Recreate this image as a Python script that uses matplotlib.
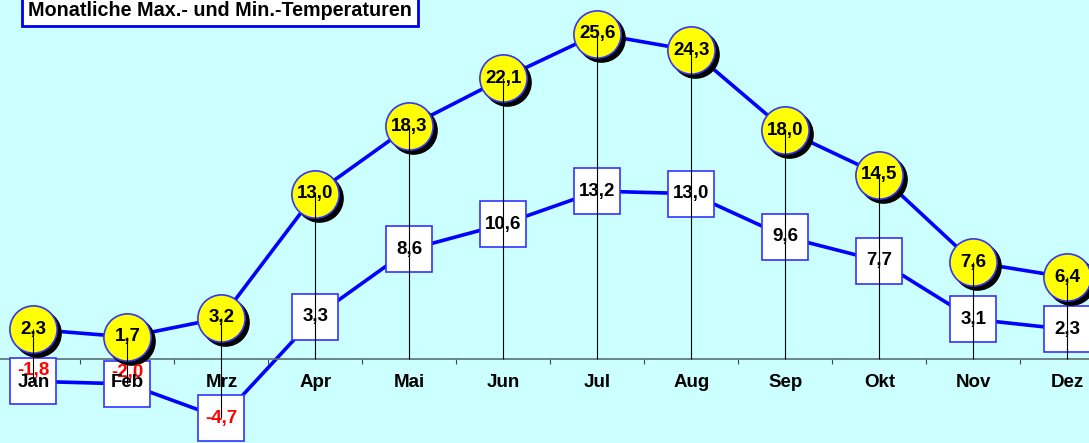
import matplotlib
matplotlib.use("Agg")
import matplotlib.pyplot as plt
from matplotlib import transforms
import numpy as np

months = ['Jan', 'Feb', 'Mrz', 'Apr', 'Mai', 'Jun', 'Jul', 'Aug', 'Sep', 'Okt', 'Nov', 'Dez']
max_temp = [2.3, 1.7, 3.2, 13.0, 18.3, 22.1, 25.6, 24.3, 18.0, 14.5, 7.6, 6.4]
min_temp = [-1.8, -2.0, -4.7, 3.3, 8.6, 10.6, 13.2, 13.0, 9.6, 7.7, 3.1, 2.3]
title = "Monatliche Max.- und Min.-Temperaturen"

plt.rcParams['font.family'] = ['Liberation Sans', 'DejaVu Sans']

BG = '#ccffff'
BLUE = '#0000ff'
EDGE = '#3333ff'


def fmt(v):
    return ("%.1f" % v).replace('.', ',')


def main():
    fig = plt.figure(figsize=(10.89, 4.43), dpi=100, facecolor=BG)
    ax = fig.add_axes([0, 0, 1, 1], facecolor=BG)
    x = np.arange(len(months))

    # lines
    ax.plot(x, min_temp, color=BLUE, lw=2.6, zorder=2)
    ax.plot(x, max_temp, color=BLUE, lw=2.6, zorder=2)

    # min squares
    ax.plot(x, min_temp, ls='none', marker='s', ms=33, mfc='white',
            mec=EDGE, mew=1.2, zorder=3)

    # shadow + yellow circles
    shadow = transforms.offset_copy(ax.transData, fig, x=3.5, y=-4, units='dots')
    ax.plot(x, max_temp, ls='none', marker='o', ms=34, mfc='black',
            mec='black', transform=shadow, zorder=3)
    ax.plot(x, max_temp, ls='none', marker='o', ms=34, mfc='#ffff00',
            mec=EDGE, mew=1.2, zorder=4)

    # drop lines
    bottoms = np.minimum(min_temp, 0)
    ax.vlines(x, bottoms, max_temp, color='black', lw=0.8, zorder=5)

    # value labels
    for i in x:
        ax.text(i, max_temp[i], fmt(max_temp[i]), ha='center', va='center',
                fontsize=13.5, fontweight='bold', color='black', zorder=6)
        v = min_temp[i]
        dy = 0
        col = 'black'
        if v < 0:
            col = 'red'
            if v > -3:
                dy = 8
        ax.annotate(fmt(v), (i, v), xytext=(0, dy), textcoords='offset points',
                    ha='center', va='center', fontsize=13.5, fontweight='bold',
                    color=col, zorder=6)

    # month labels below the zero line
    for i in x:
        ax.annotate(months[i], (i, 0), xytext=(0, -17.5), textcoords='offset points',
                    ha='center', va='center', fontsize=13.5, fontweight='bold',
                    color='black', zorder=6)

    # axis at zero
    for s in ['top', 'right', 'left']:
        ax.spines[s].set_visible(False)
    ax.spines['bottom'].set_position(('data', 0))
    ax.spines['bottom'].set_color('#5a6e6e')
    ax.spines['bottom'].set_linewidth(1.2)
    ax.set_xticks(np.arange(len(months) + 1) - 0.5)
    ax.set_xticklabels([])
    ax.tick_params(axis='x', direction='out', length=3.5, width=0.8, colors='#3a4a4a')
    ax.set_yticks([])

    ax.set_xlim(-0.356, 11.231)
    ax.set_ylim(-6.66, 28.27)

    fig.text(28 / 1089, 1 - 10.5 / 443, title, ha='left', va='center',
             fontsize=14.2, fontweight='bold', color='black',
             bbox=dict(boxstyle='square,pad=0.3', fc='white', ec='#0000ee', lw=2))

    fig.savefig("out.png", dpi=100, facecolor=BG)


if __name__ == "__main__":
    main()
